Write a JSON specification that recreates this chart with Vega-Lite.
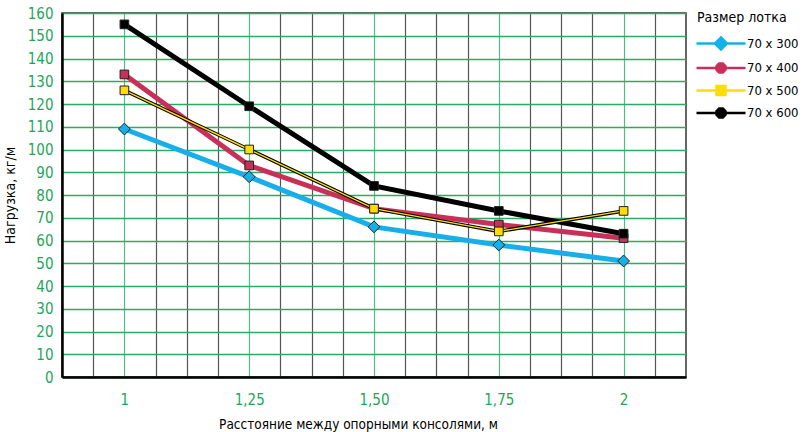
{
  "$schema": "https://vega.github.io/schema/vega-lite/v6.json",
  "width": 624,
  "height": 364,
  "autosize": "none",
  "padding": {"left": 62, "top": 13, "right": 118, "bottom": 55},
  "background": "white",
  "config": {
    "font": "DejaVu Sans Condensed",
    "view": {"stroke": "#333", "strokeWidth": 1.5}
  },
  "data": {
    "values": [
      {"series": "70 x 300", "x": 1, "y": 109},
      {"series": "70 x 300", "x": 1.25, "y": 88},
      {"series": "70 x 300", "x": 1.5, "y": 66},
      {"series": "70 x 300", "x": 1.75, "y": 58},
      {"series": "70 x 300", "x": 2, "y": 51},
      {"series": "70 x 400", "x": 1, "y": 133},
      {"series": "70 x 400", "x": 1.25, "y": 93},
      {"series": "70 x 400", "x": 1.5, "y": 74},
      {"series": "70 x 400", "x": 1.75, "y": 67},
      {"series": "70 x 400", "x": 2, "y": 61},
      {"series": "70 x 500", "x": 1, "y": 126},
      {"series": "70 x 500", "x": 1.25, "y": 100},
      {"series": "70 x 500", "x": 1.5, "y": 74},
      {"series": "70 x 500", "x": 1.75, "y": 64},
      {"series": "70 x 500", "x": 2, "y": 73},
      {"series": "70 x 600", "x": 1, "y": 155},
      {"series": "70 x 600", "x": 1.25, "y": 119},
      {"series": "70 x 600", "x": 1.5, "y": 84},
      {"series": "70 x 600", "x": 1.75, "y": 73},
      {"series": "70 x 600", "x": 2, "y": 63}
    ]
  },
  "encoding": {
    "x": {
      "field": "x",
      "type": "quantitative",
      "scale": {"domain": [0.875, 2.125], "nice": false, "zero": false},
      "axis": {
        "title": "Расстояние между опорными консолями, м",
        "titleFont": "DejaVu Sans Condensed",
        "titleFontSize": 13.5,
        "titleFontWeight": "normal",
        "titleColor": "#000",
        "titlePadding": 10,
        "titleX": 296,
        "values": [0.9375, 1, 1.0625, 1.125, 1.1875, 1.25, 1.3125, 1.375, 1.4375, 1.5, 1.5625, 1.625, 1.6875, 1.75, 1.8125, 1.875, 1.9375, 2, 2.0625],
        "labelExpr": "datum.value == 1 ? '1' : datum.value == 1.25 ? '1,25' : datum.value == 1.5 ? '1,50' : datum.value == 1.75 ? '1,75' : datum.value == 2 ? '2' : ''",
        "labelFont": "DejaVu Sans Condensed",
        "labelColor": "#1fa55a",
        "labelFontSize": 15,
        "labelPadding": 15,
        "ticks": false,
        "domainColor": "#000",
        "domainWidth": 2.5,
        "grid": true,
        "gridColor": {"condition": {"test": "datum.value * 4 == round(datum.value * 4)", "value": "#4cc07f"}, "value": "#555"},
        "gridOpacity": 1,
        "gridWidth": 1.2
      }
    },
    "y": {
      "field": "y",
      "type": "quantitative",
      "scale": {"domain": [0, 160], "nice": false},
      "axis": {
        "title": "Нагрузка, кг/м",
        "titleFont": "DejaVu Sans Condensed",
        "titleFontSize": 14,
        "titleFontWeight": "normal",
        "titleColor": "#000",
        "titlePadding": 10,
        "values": [0, 10, 20, 30, 40, 50, 60, 70, 80, 90, 100, 110, 120, 130, 140, 150, 160],
        "labelFont": "DejaVu Sans Condensed",
        "labelColor": "#1fa55a",
        "labelFontSize": 15,
        "labelPadding": 9,
        "ticks": false,
        "domainColor": "#000",
        "domainWidth": 2.5,
        "grid": true,
        "gridColor": "#2aab62",
        "gridOpacity": 1,
        "gridWidth": 1.5
      }
    }
  },
  "layer": [
    {
      "transform": [{"filter": "datum.series != '70 x 500'"}],
      "mark": {"type": "line", "strokeWidth": 5},
      "encoding": {
        "color": {
          "field": "series",
          "type": "nominal",
          "scale": {
            "domain": ["70 x 300", "70 x 400", "70 x 500", "70 x 600"],
            "range": ["#18aeea", "#c8305a", "#ffdd00", "#000000"]
          },
          "legend": {
            "title": "Размер лотка",
            "titleFont": "DejaVu Sans Condensed",
            "titleFontSize": 14,
            "titleFontWeight": "normal",
            "titleColor": "#000",
            "titlePadding": 12,
            "labelFont": "DejaVu Sans Condensed",
            "labelFontSize": 13,
            "labelColor": "#000",
            "labelOffset": 37,
            "symbolSize": 100,
            "rowPadding": 3.5,
            "orient": "none",
            "legendX": 635,
            "legendY": -2,
            "encode": {
              "symbols": {
                "update": {
                  "shape": {"signal": "datum.value == '70 x 300' ? 'M-1.4,0H2.3M4.7,0H8.4M3.5,-1.2L4.7,0L3.5,1.2L2.3,0Z' : datum.value == '70 x 500' ? 'M-1.4,0H2.6M4.4,0H8.4M2.6,-0.9H4.4V0.9H2.6Z' : 'M-1.4,0H8.4M2.6,-0.37L3.13,-0.9L3.87,-0.9L4.4,-0.37L4.4,0.37L3.87,0.9L3.13,0.9L2.6,0.37Z'"},
                  "size": {"value": 100},
                  "fill": {"scale": "color", "field": "value"},
                  "stroke": {"signal": "datum.value == '70 x 500' ? '#a89a24' : scale('color', datum.value)"},
                  "strokeWidth": {"value": 2.5},
                  "opacity": {"value": 1}
                }
              }
            }
          }
        }
      }
    },
    {
      "transform": [{"filter": "datum.series == '70 x 500'"}],
      "mark": {"type": "line", "strokeWidth": 3.5, "color": "#000"},
      "encoding": {}
    },
    {
      "transform": [{"filter": "datum.series == '70 x 500'"}],
      "mark": {"type": "line", "strokeWidth": 1.4, "color": "#ffdd00"},
      "encoding": {}
    },
    {
      "mark": {"type": "point", "filled": true, "stroke": "#222", "strokeWidth": 1, "opacity": 1},
      "encoding": {
        "color": {"field": "series", "type": "nominal"},
        "shape": {"condition": {"test": "datum.series == '70 x 300'", "value": "diamond"}, "value": "square"},
        "size": {"condition": {"test": "datum.series == '70 x 300'", "value": 140}, "value": 75}
      }
    }
  ]
}
